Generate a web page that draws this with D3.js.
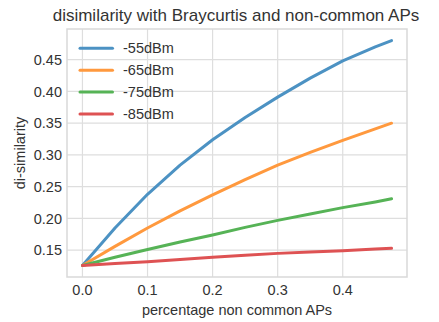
<!DOCTYPE html>
<html>
<head>
<meta charset="utf-8">
<script src="https://cdn.jsdelivr.net/npm/d3@7"></script>
<style>
  body { margin: 0; background: #fff; }
  text { font-family: "Liberation Sans", Arial, sans-serif; fill: #333; }
</style>
</head>
<body>
<div id="chart"></div>
<script>
// values
var xs = [0, 0.05, 0.1, 0.15, 0.2, 0.25, 0.3, 0.35, 0.4, 0.45, 0.475];
var s55 = [0.126, 0.185, 0.238, 0.284, 0.324, 0.359, 0.391, 0.421, 0.448, 0.470, 0.480];
var s65 = [0.126, 0.156, 0.185, 0.212, 0.237, 0.261, 0.284, 0.304, 0.323, 0.341, 0.350];
var s75 = [0.126, 0.139, 0.151, 0.163, 0.174, 0.186, 0.197, 0.207, 0.217, 0.226, 0.231];
var s85 = [0.126, 0.129, 0.132, 0.1355, 0.139, 0.142, 0.145, 0.147, 0.149, 0.152, 0.153];
var seriesNames = ["-55dBm", "-65dBm", "-75dBm", "-85dBm"];
var colors = ["#4c92c3", "#ff993e", "#56b356", "#de5253"];
var xTicks = [0, 0.1, 0.2, 0.3, 0.4];
var yTicks = [0.15, 0.20, 0.25, 0.30, 0.35, 0.40, 0.45];

var W = 439, H = 322;
var margin = {left: 67, right: 32, top: 29, bottom: 45};

var svg = d3.select("#chart").append("svg")
    .attr("width", W)
    .attr("height", H);

var x = d3.scaleLinear()
    .domain([-0.02375, 0.49875])
    .range([margin.left, W - margin.right]);
var y = d3.scaleLinear()
    .domain([0.1078, 0.4983])
    .range([H - margin.bottom, margin.top]);

var allSeries = [s55, s65, s75, s85];

// grid
svg.append("g").selectAll("line.gx")
    .data(xTicks).enter().append("line")
    .attr("x1", d => x(d)).attr("x2", d => x(d))
    .attr("y1", margin.top).attr("y2", H - margin.bottom)
    .style("stroke", "#dedede").style("stroke-width", 1.2);
svg.append("g").selectAll("line.gy")
    .data(yTicks).enter().append("line")
    .attr("x1", margin.left).attr("x2", W - margin.right)
    .attr("y1", d => y(d)).attr("y2", d => y(d))
    .style("stroke", "#dedede").style("stroke-width", 1.2);

// frame
svg.append("rect")
    .attr("x", margin.left).attr("y", margin.top)
    .attr("width", W - margin.left - margin.right)
    .attr("height", H - margin.top - margin.bottom)
    .style("fill", "none").style("stroke", "#d9d9d9").style("stroke-width", 1.5);

// tick labels
svg.append("g").selectAll("text")
    .data(xTicks).enter().append("text")
    .attr("x", d => x(d)).attr("y", 295)
    .attr("text-anchor", "middle")
    .style("font-size", "14.5px")
    .text(d => d3.format(".1f")(d));
svg.append("g").selectAll("text")
    .data(yTicks).enter().append("text")
    .attr("x", 62).attr("y", d => y(d))
    .attr("dy", "0.35em")
    .attr("text-anchor", "end")
    .style("font-size", "14.5px")
    .text(d => d3.format(".2f")(d));

// lines
var line = d3.line()
    .x((d, i) => x(xs[i]))
    .y(d => y(d));
svg.append("g").selectAll("path")
    .data(allSeries).enter().append("path")
    .attr("d", line)
    .style("fill", "none")
    .style("stroke", (d, i) => colors[i])
    .style("stroke-width", 3)
    .style("stroke-linecap", "round")
    .style("stroke-linejoin", "round");

// legend
var leg = svg.append("g").selectAll("g")
    .data(seriesNames).enter().append("g")
    .attr("transform", (d, i) => "translate(0," + (48.3 + i * 21.9) + ")");
leg.append("line")
    .attr("x1", 80).attr("x2", 112.5)
    .style("stroke", (d, i) => colors[i])
    .style("stroke-width", 3)
    .style("stroke-linecap", "round");
leg.append("text")
    .attr("x", 123).attr("dy", "0.35em")
    .style("font-size", "14.5px")
    .text(d => d);

// titles
svg.append("text")
    .attr("x", 236).attr("y", 21)
    .attr("text-anchor", "middle")
    .style("font-size", "17px")
    .text("disimilarity with Braycurtis and non-common APs");
svg.append("text")
    .attr("x", 237).attr("y", 315)
    .attr("text-anchor", "middle")
    .style("font-size", "14.5px")
    .text("percentage non common APs");
svg.append("text")
    .attr("transform", "translate(25,153) rotate(-90)")
    .attr("text-anchor", "middle")
    .style("font-size", "14.5px")
    .text("di-similarity");
</script>
</body>
</html>
